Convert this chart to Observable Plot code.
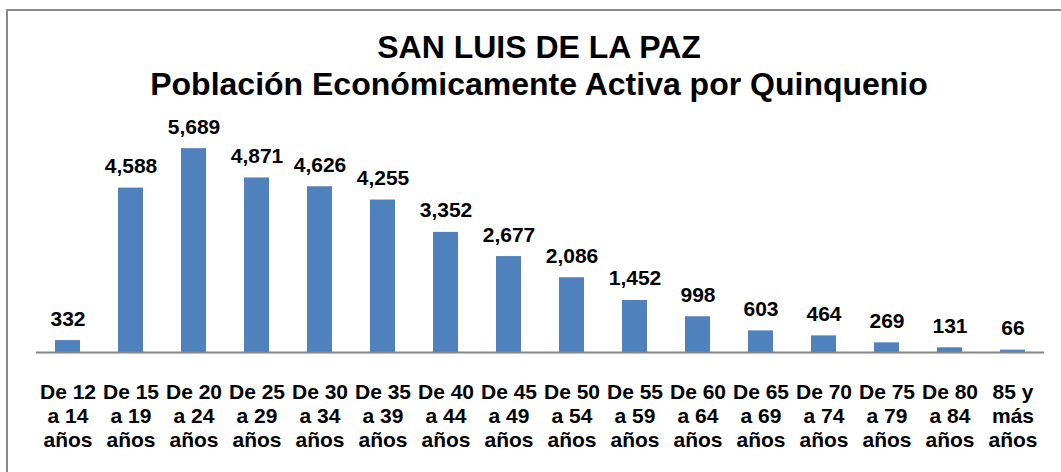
<!DOCTYPE html>
<html>
<head>
<meta charset="utf-8">
<script src="https://cdn.jsdelivr.net/npm/d3@7"></script>
<script src="https://cdn.jsdelivr.net/npm/@observablehq/plot@0.6"></script>
<style>
  html, body { margin: 0; padding: 0; background: #fff; overflow: hidden; width: 1061px; height: 472px; }
  #frame { position: absolute; left: 6px; top: 9px; width: 1200px; height: 600px; border-left: 2px solid #8a8a8a; border-top: 2px solid #8a8a8a; box-sizing: border-box; }
  #title { position: absolute; left: 0; top: 29px; width: 1078px; text-align: center; font-family: "Liberation Sans", Arial, sans-serif; font-weight: bold; font-size: 32px; line-height: 37px; color: #000; }
  #chart { position: absolute; left: 0; top: 105px; }
</style>
</head>
<body>
<div id="frame"></div>
<div id="title">SAN LUIS DE LA PAZ<br>Población Económicamente Activa por Quinquenio</div>
<div id="chart"></div>
<script>
const categories = [
  "De 12\na 14\naños", "De 15\na 19\naños", "De 20\na 24\naños", "De 25\na 29\naños",
  "De 30\na 34\naños", "De 35\na 39\naños", "De 40\na 44\naños", "De 45\na 49\naños",
  "De 50\na 54\naños", "De 55\na 59\naños", "De 60\na 64\naños", "De 65\na 69\naños",
  "De 70\na 74\naños", "De 75\na 79\naños", "De 80\na 84\naños", "85 y\nmás\naños"
];
const values = [332, 4588, 5689, 4871, 4626, 4255, 3352, 2677, 2086, 1452, 998, 603, 464, 269, 131, 66];
const yDomain = [0, 6000];

const data = categories.map((c, i) => ({cat: c, value: values[i]}));
const fmt = d3.format(",");

const chart = Plot.plot({
  width: 1061,
  height: 360,
  marginLeft: 36,
  marginRight: 17,
  marginTop: 32,
  marginBottom: 113,
  style: {fontFamily: "Liberation Sans, Arial, sans-serif", color: "#000", background: "transparent", overflow: "visible"},
  x: {domain: categories, paddingInner: 0.6, paddingOuter: 0.3, label: null},
  y: {domain: yDomain, axis: null},
  marks: [
    Plot.barY(data, {x: "cat", y: "value", fill: "#4F81BD"}),
    Plot.ruleY([0], {stroke: "#868686", strokeWidth: 2}),
    Plot.text(data, {x: "cat", y: "value", text: d => fmt(d.value), lineAnchor: "bottom", dy: -15, fontSize: 21, fontWeight: "bold", fill: "#000"}),
    Plot.axisX({tickSize: 0, tickPadding: 29, fontSize: 21, fontWeight: "bold", lineHeight: 24 / 21, label: null, tickFormat: d => d})
  ]
});
document.getElementById("chart").appendChild(chart);
</script>
</body>
</html>
